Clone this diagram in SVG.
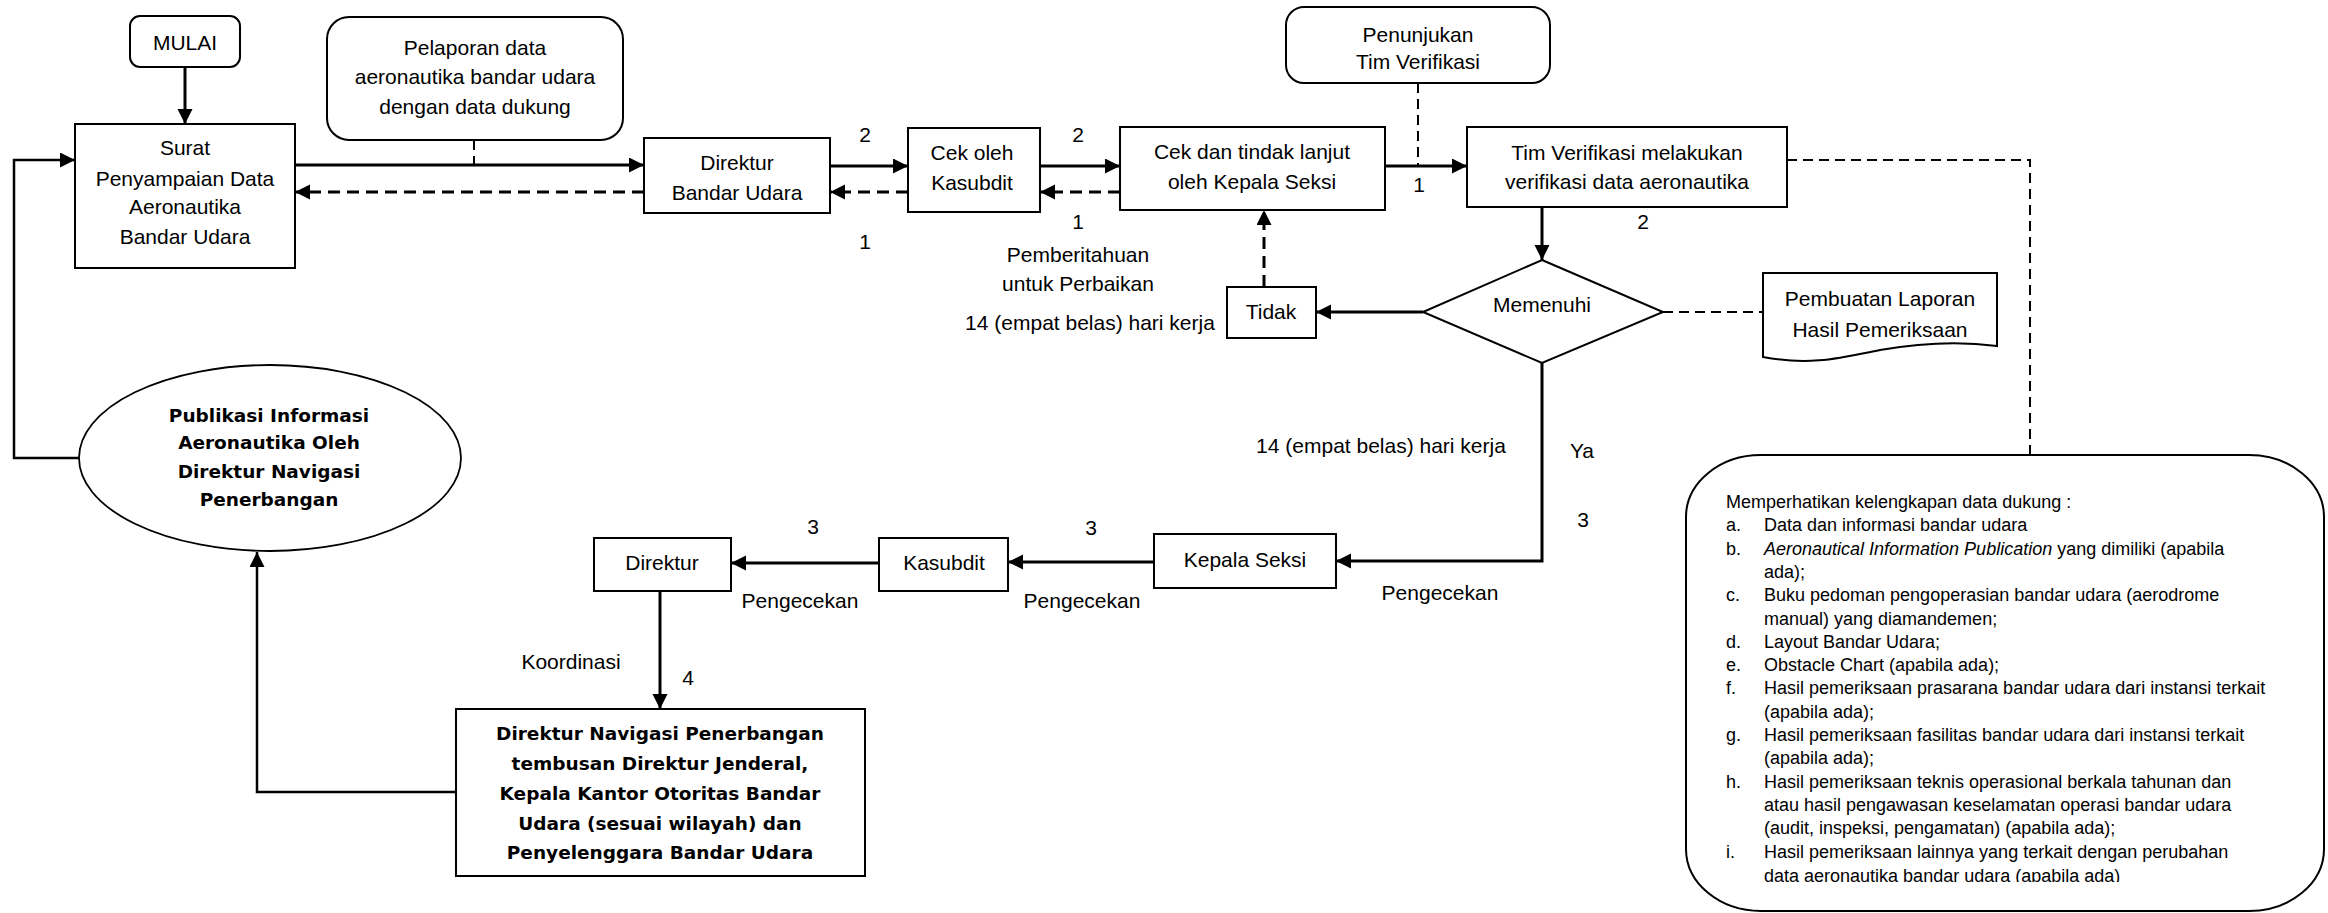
<svg xmlns="http://www.w3.org/2000/svg" width="2328" height="913" viewBox="0 0 2328 913">
<style>
.box{fill:#fff;stroke:#000;stroke-width:2}
.t{font-family:"Liberation Sans",Arial,sans-serif;font-size:21px;fill:#000;text-anchor:middle}
.b{font-family:"DejaVu Sans","Liberation Sans",sans-serif;font-size:18.5px;font-weight:bold;fill:#000;text-anchor:middle}
.n{font-family:"Liberation Sans",Arial,sans-serif;font-size:18px;fill:#000}
.c{fill:none;stroke:#000;stroke-width:3}
.cd{fill:none;stroke:#000;stroke-width:3;stroke-dasharray:12 7}
.td{fill:none;stroke:#000;stroke-width:2;stroke-dasharray:10 6}
.thin{fill:none;stroke:#000;stroke-width:2.5}
</style>
<defs>
<marker id="ah" markerUnits="userSpaceOnUse" markerWidth="16" markerHeight="16" refX="15" refY="7.5" orient="auto">
<path d="M0,0 L15,7.5 L0,15 z" fill="#000" stroke="none"/>
</marker>
<clipPath id="noteclip"><rect x="1686" y="455" width="638" height="427"/></clipPath>
</defs>
<rect width="2328" height="913" fill="#fff"/>

<g id="connectors">
<line class="c" x1="185" y1="67" x2="185" y2="124" marker-end="url(#ah)"/>
<line class="c" x1="295" y1="165" x2="644" y2="165" marker-end="url(#ah)"/>
<line class="cd" x1="644" y1="192" x2="295" y2="192" marker-end="url(#ah)"/>
<line class="td" x1="474" y1="140" x2="474" y2="164"/>
<line class="c" x1="830" y1="166" x2="908" y2="166" marker-end="url(#ah)"/>
<line class="cd" x1="908" y1="192" x2="830" y2="192" marker-end="url(#ah)"/>
<line class="c" x1="1040" y1="166" x2="1120" y2="166" marker-end="url(#ah)"/>
<line class="cd" x1="1120" y1="192" x2="1040" y2="192" marker-end="url(#ah)"/>
<line class="c" x1="1385" y1="166" x2="1467" y2="166" marker-end="url(#ah)"/>
<line class="td" x1="1418" y1="83" x2="1418" y2="165"/>
<polyline class="td" points="1787,160 2030,160 2030,455"/>
<line class="c" x1="1542" y1="207" x2="1542" y2="260" marker-end="url(#ah)"/>
<line class="c" x1="1423" y1="312" x2="1316" y2="312" marker-end="url(#ah)"/>
<line class="cd" x1="1264" y1="287" x2="1264" y2="210" marker-end="url(#ah)"/>
<line class="td" x1="1663" y1="312" x2="1763" y2="312"/>
<polyline class="c" points="1542,363 1542,561 1336,561" marker-end="url(#ah)"/>
<line class="c" x1="1154" y1="562" x2="1008" y2="562" marker-end="url(#ah)"/>
<line class="c" x1="879" y1="563" x2="731" y2="563" marker-end="url(#ah)"/>
<line class="c" x1="660" y1="591" x2="660" y2="709" marker-end="url(#ah)"/>
<polyline class="thin" points="456,792 257,792 257,552" marker-end="url(#ah)"/>
<polyline class="thin" points="79,458 14,458 14,160 75,160" marker-end="url(#ah)"/>
</g>

<g id="labels">
<text class="t" x="865" y="142">2</text>
<text class="t" x="865" y="249">1</text>
<text class="t" x="1078" y="142">2</text>
<text class="t" x="1078" y="229">1</text>
<text class="t" x="1419" y="192">1</text>
<text class="t" x="1643" y="229">2</text>
<text class="t" x="1078" y="262">Pemberitahuan</text>
<text class="t" x="1078" y="291">untuk Perbaikan</text>
<text class="t" x="1090" y="330">14 (empat belas) hari kerja</text>
<text class="t" x="1381" y="453">14 (empat belas) hari kerja</text>
<text class="t" x="1582" y="458">Ya</text>
<text class="t" x="1583" y="527">3</text>
<text class="t" x="1440" y="600">Pengecekan</text>
<text class="t" x="1091" y="535">3</text>
<text class="t" x="1082" y="608">Pengecekan</text>
<text class="t" x="813" y="534">3</text>
<text class="t" x="800" y="608">Pengecekan</text>
<text class="t" x="571" y="669">Koordinasi</text>
<text class="t" x="688" y="685">4</text>
</g>

<g id="mulai">
<rect class="box" x="130" y="16" width="110" height="51" rx="10"/>
<text class="t" x="185" y="50">MULAI</text>
</g>
<g id="surat">
<rect class="box" x="75" y="124" width="220" height="144"/>
<text class="t" x="185" y="155">Surat</text>
<text class="t" x="185" y="186">Penyampaian Data</text>
<text class="t" x="185" y="214">Aeronautika</text>
<text class="t" x="185" y="244">Bandar Udara</text>
</g>
<g id="pelaporan">
<rect class="box" x="327" y="17" width="296" height="123" rx="22"/>
<text class="t" x="475" y="55">Pelaporan data</text>
<text class="t" x="475" y="84">aeronautika bandar udara</text>
<text class="t" x="475" y="114">dengan data dukung</text>
</g>
<g id="direktur-bandar-udara">
<rect class="box" x="644" y="138" width="186" height="75"/>
<text class="t" x="737" y="170">Direktur</text>
<text class="t" x="737" y="200">Bandar Udara</text>
</g>
<g id="cek-kasubdit">
<rect class="box" x="908" y="128" width="132" height="84"/>
<text class="t" x="972" y="160">Cek oleh</text>
<text class="t" x="972" y="190">Kasubdit</text>
</g>
<g id="cek-kepala-seksi">
<rect class="box" x="1120" y="127" width="265" height="83"/>
<text class="t" x="1252" y="159">Cek dan tindak lanjut</text>
<text class="t" x="1252" y="189">oleh Kepala Seksi</text>
</g>
<g id="penunjukan">
<rect class="box" x="1286" y="7" width="264" height="76" rx="18"/>
<text class="t" x="1418" y="42">Penunjukan</text>
<text class="t" x="1418" y="69">Tim Verifikasi</text>
</g>
<g id="tim-verifikasi">
<rect class="box" x="1467" y="127" width="320" height="80"/>
<text class="t" x="1627" y="160">Tim Verifikasi melakukan</text>
<text class="t" x="1627" y="189">verifikasi data aeronautika</text>
</g>
<g id="memenuhi">
<polygon class="box" points="1542,260 1663,312 1542,363 1423,312"/>
<text class="t" x="1542" y="312">Memenuhi</text>
</g>
<g id="tidak">
<rect class="box" x="1227" y="287" width="89" height="51"/>
<text class="t" x="1271" y="319">Tidak</text>
</g>
<g id="pembuatan-laporan">
<path class="box" d="M1763,273 H1997 V346 C1960,341 1920,343 1880,350 C1840,358 1810,366 1763,357 Z"/>
<text class="t" x="1880" y="306">Pembuatan Laporan</text>
<text class="t" x="1880" y="337">Hasil Pemeriksaan</text>
</g>
<g id="catatan">
<rect class="box" x="1686" y="455" width="638" height="456" rx="75" ry="62"/>
<g clip-path="url(#noteclip)">
<text class="n" x="1726" y="508">Memperhatikan kelengkapan data dukung :</text>
<text class="n" x="1726" y="531">a.</text><text class="n" x="1764" y="531">Data dan informasi bandar udara</text>
<text class="n" x="1726" y="555">b.</text><text class="n" x="1764" y="555"><tspan font-style="italic">Aeronautical Information Publication</tspan> yang dimiliki (apabila</text>
<text class="n" x="1764" y="578">ada);</text>
<text class="n" x="1726" y="601">c.</text><text class="n" x="1764" y="601">Buku pedoman pengoperasian bandar udara (aerodrome</text>
<text class="n" x="1764" y="625">manual) yang diamandemen;</text>
<text class="n" x="1726" y="648">d.</text><text class="n" x="1764" y="648">Layout Bandar Udara;</text>
<text class="n" x="1726" y="671">e.</text><text class="n" x="1764" y="671">Obstacle Chart (apabila ada);</text>
<text class="n" x="1726" y="694">f.</text><text class="n" x="1764" y="694">Hasil pemeriksaan prasarana bandar udara dari instansi terkait</text>
<text class="n" x="1764" y="718">(apabila ada);</text>
<text class="n" x="1726" y="741">g.</text><text class="n" x="1764" y="741">Hasil pemeriksaan fasilitas bandar udara dari instansi terkait</text>
<text class="n" x="1764" y="764">(apabila ada);</text>
<text class="n" x="1726" y="788">h.</text><text class="n" x="1764" y="788">Hasil pemeriksaan teknis operasional berkala tahunan dan</text>
<text class="n" x="1764" y="811">atau hasil pengawasan keselamatan operasi bandar udara</text>
<text class="n" x="1764" y="834">(audit, inspeksi, pengamatan) (apabila ada);</text>
<text class="n" x="1726" y="858">i.</text><text class="n" x="1764" y="858">Hasil pemeriksaan lainnya yang terkait dengan perubahan</text>
<text class="n" x="1764" y="882">data aeronautika bandar udara (apabila ada)</text>
</g>
</g>
<g id="kepala-seksi">
<rect class="box" x="1154" y="534" width="182" height="54"/>
<text class="t" x="1245" y="567">Kepala Seksi</text>
</g>
<g id="kasubdit">
<rect class="box" x="879" y="538" width="129" height="53"/>
<text class="t" x="944" y="570">Kasubdit</text>
</g>
<g id="direktur">
<rect class="box" x="594" y="538" width="137" height="53"/>
<text class="t" x="662" y="570">Direktur</text>
</g>
<g id="direktur-navigasi">
<rect class="box" x="456" y="709" width="409" height="167"/>
<text class="b" x="660" y="740">Direktur Navigasi Penerbangan</text>
<text class="b" x="660" y="770">tembusan Direktur Jenderal,</text>
<text class="b" x="660" y="800">Kepala Kantor Otoritas Bandar</text>
<text class="b" x="660" y="830">Udara (sesuai wilayah) dan</text>
<text class="b" x="660" y="859">Penyelenggara Bandar Udara</text>
</g>
<g id="publikasi">
<ellipse cx="270" cy="458" rx="191" ry="93" fill="#fff" stroke="#000" stroke-width="1.8"/>
<text class="b" x="269" y="422">Publikasi Informasi</text>
<text class="b" x="269" y="449">Aeronautika Oleh</text>
<text class="b" x="269" y="478">Direktur Navigasi</text>
<text class="b" x="269" y="506">Penerbangan</text>
</g>
</svg>
